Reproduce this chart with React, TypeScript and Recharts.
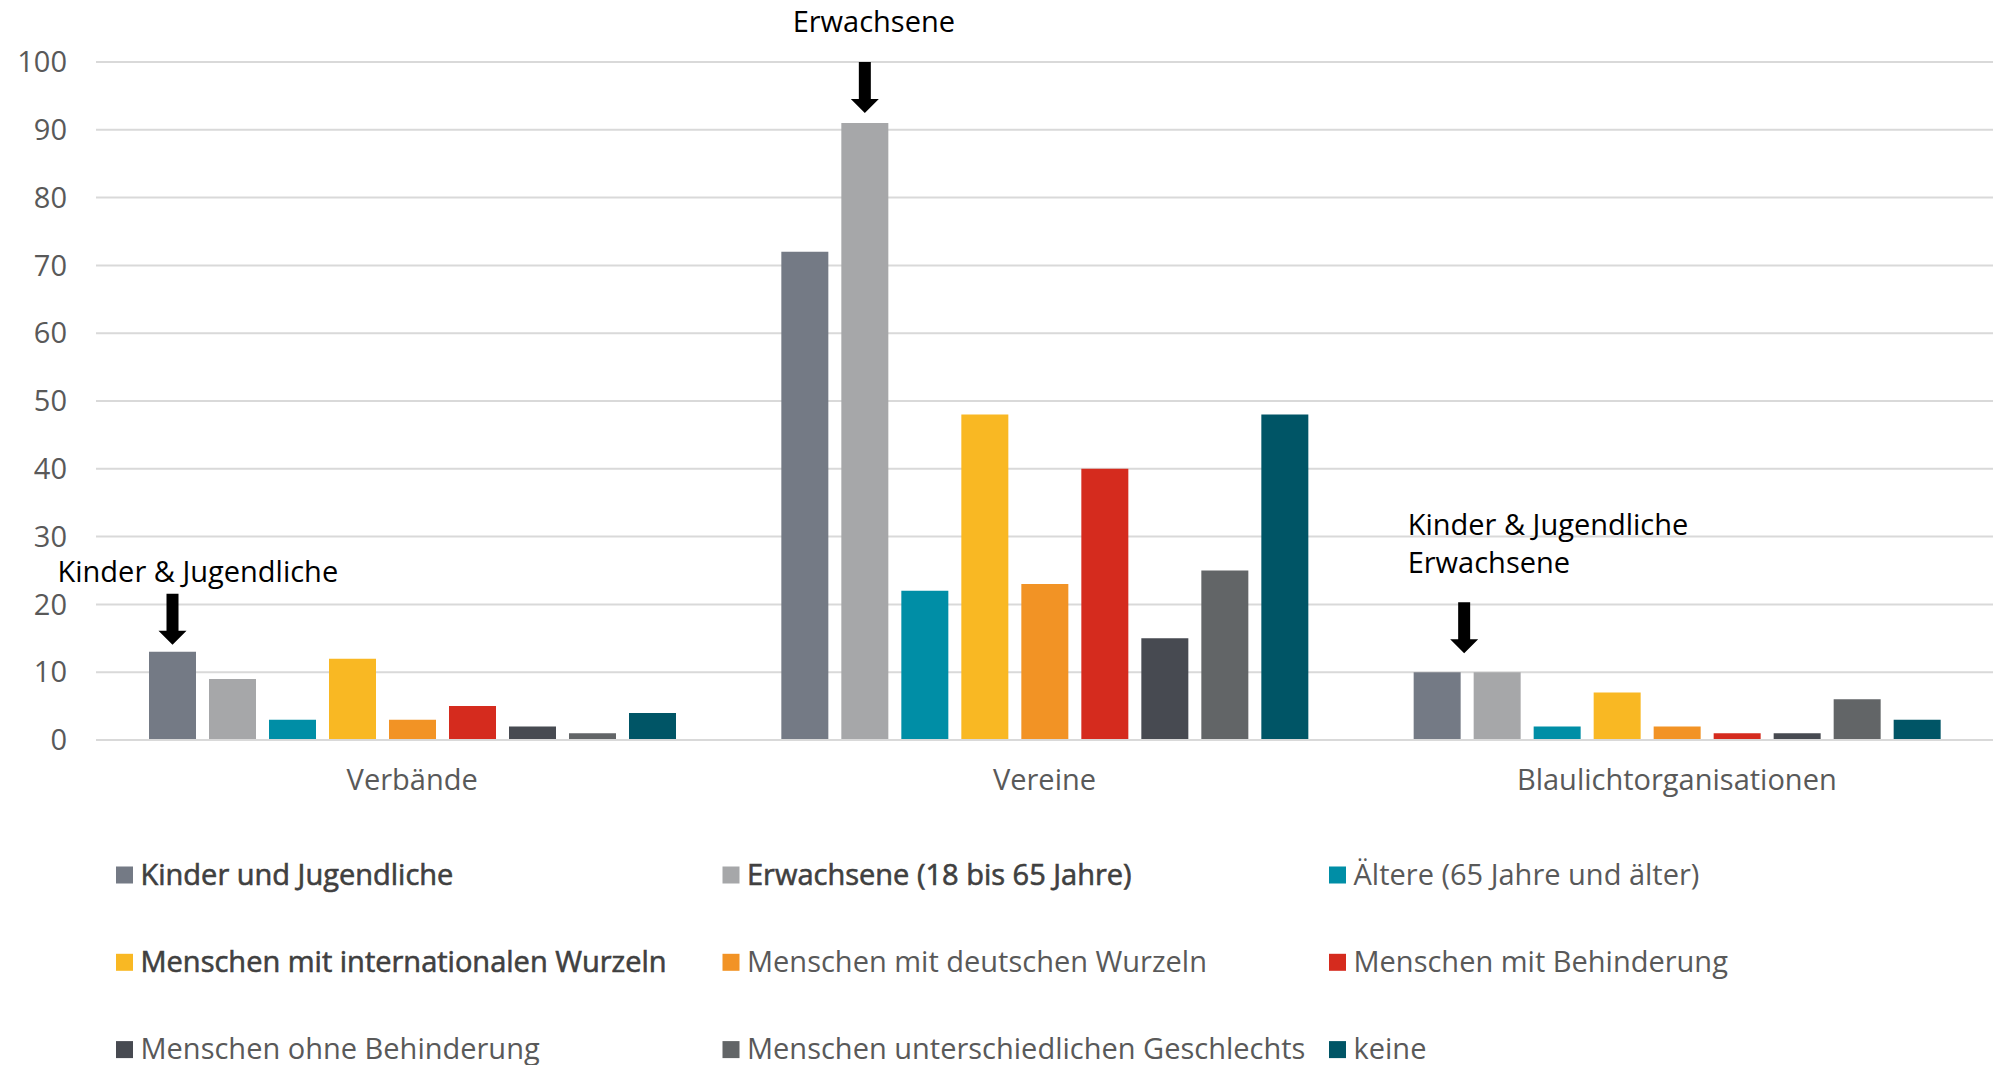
import React from 'react';
import { BarChart, Bar, XAxis, YAxis, CartesianGrid, Legend, LabelList } from 'recharts';

const categories = ['Verbände', 'Vereine', 'Blaulichtorganisationen'];

const seriesNames = [
  'Kinder und Jugendliche',
  'Erwachsene (18 bis 65 Jahre)',
  'Ältere (65 Jahre und älter)',
  'Menschen mit internationalen Wurzeln',
  'Menschen mit deutschen Wurzeln',
  'Menschen mit Behinderung',
  'Menschen ohne Behinderung',
  'Menschen unterschiedlichen Geschlechts',
  'keine',
];

const seriesColors = [
  '#747a85',
  '#a6a7a9',
  '#008ea6',
  '#f9b823',
  '#f29325',
  '#d52b1e',
  '#474a51',
  '#626567',
  '#005566',
];

const boldLegend = [true, true, false, true, false, false, false, false, false];

const kinder = [13, 72, 10];
const erwachsene = [9, 91, 10];
const aeltere = [3, 22, 2];
const international = [12, 48, 7];
const deutsch = [3, 23, 2];
const behinderung = [5, 40, 1];
const ohneBehinderung = [2, 15, 1];
const geschlecht = [1, 25, 6];
const keine = [4, 48, 3];

const yTicks = [0, 10, 20, 30, 40, 50, 60, 70, 80, 90, 100];

const seriesValues = [kinder, erwachsene, aeltere, international, deutsch, behinderung, ohneBehinderung, geschlecht, keine];

const data = categories.map((c, i) => {
  const row: Record<string, any> = { category: c };
  seriesValues.forEach((vals, s) => {
    row['s' + s] = vals[i];
  });
  return row;
});

const FONT = "'Open Sans', 'Noto Sans', sans-serif";

const Arrow = ({ cx, tipY }: { cx: number; tipY: number }) => {
  const len = 51;
  const sw = 6;
  const hw = 14;
  const hh = 14;
  const d = `M${cx - sw},${tipY - len} L${cx + sw},${tipY - len} L${cx + sw},${tipY - hh} L${cx + hw},${tipY - hh} L${cx},${tipY} L${cx - hw},${tipY - hh} L${cx - sw},${tipY - hh} Z`;
  return <path d={d} fill="#000" />;
};

const annotStyle = { fontSize: 29, fontFamily: FONT, fill: '#000' };

const kinderAnnot = (p: any) => {
  const x = Number(p.x);
  const y = Number(p.y);
  const w = Number(p.width);
  if (p.index === 0) {
    return (
      <g>
        <text x={x - 91.5} y={y - 70} {...annotStyle}>Kinder &amp; Jugendliche</text>
        <Arrow cx={x + w / 2} tipY={y - 7} />
      </g>
    );
  }
  if (p.index === 2) {
    return (
      <g>
        <text x={x - 6} y={y - 137.7} {...annotStyle}>Kinder &amp; Jugendliche</text>
        <text x={x - 6} y={y - 99.3} {...annotStyle}>Erwachsene</text>
        <Arrow cx={x + w + 3.5} tipY={y - 19} />
      </g>
    );
  }
  return <g />;
};

const erwachseneAnnot = (p: any) => {
  const x = Number(p.x);
  const y = Number(p.y);
  const w = Number(p.width);
  if (p.index === 1) {
    return (
      <g>
        <text x={x + w / 2 + 9} y={y - 91} textAnchor="middle" {...annotStyle}>Erwachsene</text>
        <Arrow cx={x + w / 2} tipY={y - 10} />
      </g>
    );
  }
  return <g />;
};

const renderLegend = () => (
  <svg width={1993} height={210} style={{ display: 'block' }}>
    {seriesNames.map((name, i) => {
      const col = i % 3;
      const row = Math.floor(i / 3);
      const x = 116 + col * 606.5;
      const base = 29.5 + row * 87.3;
      const bold = boldLegend[i];
      return (
        <g key={name}>
          <rect x={x} y={base - 18} width={17} height={17} fill={seriesColors[i]} />
          <text
            x={x + 24.5}
            y={base}
            fontSize={29}
            fontWeight={400}
            fontFamily={FONT}
            fill={bold ? '#404040' : '#595959'}
            stroke={bold ? '#404040' : 'none'}
            strokeWidth={bold ? 0.6 : 0}
          >
            {name}
          </text>
        </g>
      );
    })}
  </svg>
);

export default function App() {
  return (
    <div style={{ position: 'absolute', left: 0, top: 0, width: 1993, height: 1065, background: '#fff', fontFamily: FONT }}>
      <BarChart
        width={1993}
        height={1065}
        data={data}
        margin={{ top: 62, right: 0, bottom: 275, left: 0 }}
        barSize={47}
        barGap={13}
      >
        <CartesianGrid vertical={false} stroke="#d9d9d9" strokeWidth={2} />
        <XAxis
          dataKey="category"
          height={50}
          tickLine={false}
          tickSize={0}
          tickMargin={29}
          axisLine={{ stroke: '#d9d9d9', strokeWidth: 2 }}
          tick={{ fill: '#595959', fontSize: 29, fontFamily: FONT }}
        />
        <YAxis
          type="number"
          domain={[0, 100]}
          ticks={yTicks}
          width={96}
          axisLine={false}
          tickLine={false}
          tickSize={0}
          tickMargin={29}
          tick={{ fill: '#595959', fontSize: 29, fontFamily: FONT }}
        />
        <Legend
          layout="horizontal"
          align="center"
          verticalAlign="middle"
          content={renderLegend}
          wrapperStyle={{ left: 0, top: 855, width: 1993, height: 210 }}
        />
        {seriesNames.map((name, s) => (
          <Bar key={name} dataKey={'s' + s} name={name} fill={seriesColors[s]} isAnimationActive={false}>
            {s === 0 ? <LabelList dataKey={'s0'} content={kinderAnnot} /> : null}
            {s === 1 ? <LabelList dataKey={'s1'} content={erwachseneAnnot} /> : null}
          </Bar>
        ))}
      </BarChart>
    </div>
  );
}
